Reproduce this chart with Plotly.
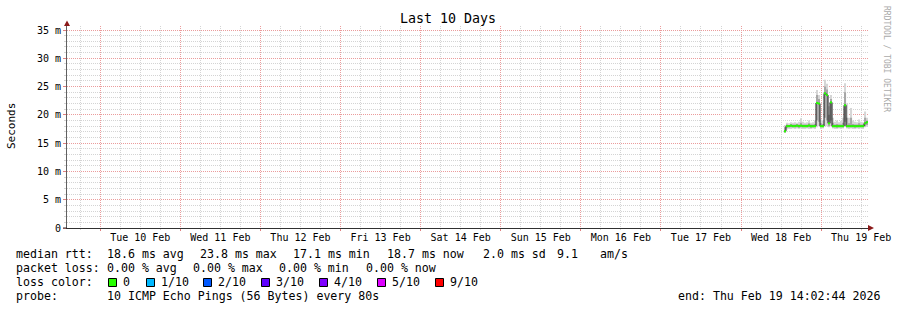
import plotly.graph_objects as go
import pandas as pd

# ---------------- data ----------------
range_start = "2026-02-09 14:02:44"
range_end = "2026-02-19 14:02:44"
data_start = "2026-02-18 12:52"
step = "36min"

median_ms = [17.1, 18.0, 18.0, 18.1, 18.0, 18.0, 18.1, 18.0, 18.1, 18.0,
             18.0, 18.0, 18.1, 18.0, 18.0, 18.0, 22.1, 22.0, 18.0, 18.0,
             23.8, 23.5, 18.5, 22.2, 18.0, 18.0, 18.0, 18.0, 18.0, 18.0,
             21.7, 18.0, 18.0, 18.0, 18.0, 18.0, 18.0, 18.0, 18.0, 18.0,
             18.5, 18.7]
min_ms = [16.8, 17.4, 17.5, 17.5, 17.6, 17.5, 17.6, 17.5, 17.6, 17.5,
          17.5, 17.6, 17.5, 17.5, 17.6, 17.5, 17.8, 18.0, 17.5, 17.6,
          18.0, 18.0, 17.8, 18.0, 17.6, 17.5, 17.5, 17.6, 17.5, 17.6,
          17.9, 17.6, 17.5, 17.6, 17.5, 17.5, 17.6, 17.5, 17.6, 17.5,
          17.8, 17.9]
max_ms = [18.2, 18.6, 18.5, 18.7, 18.6, 18.7, 18.6, 18.8, 19.4, 18.8,
          18.6, 18.7, 19.0, 18.6, 18.7, 19.0, 24.4, 23.5, 19.2, 19.0,
          26.2, 25.5, 21.5, 23.5, 19.5, 18.8, 19.0, 18.7, 18.9, 19.5,
          25.6, 22.0, 19.5, 21.2, 19.0, 18.8, 18.7, 19.2, 18.8, 18.7,
          20.6, 19.5]
inner_lo_ms = [16.9, 17.7, 17.8, 17.8, 17.8, 17.8, 17.8, 17.7, 17.8, 17.8,
               17.8, 17.8, 17.8, 17.7, 17.8, 17.8, 19.0, 18.8, 17.8, 17.8,
               19.5, 19.0, 18.0, 19.0, 17.8, 17.8, 17.7, 17.8, 17.8, 17.8,
               18.8, 17.8, 17.8, 17.8, 17.8, 17.7, 17.8, 17.8, 17.8, 17.8,
               18.0, 18.2]
inner_hi_ms = [17.8, 18.3, 18.2, 18.4, 18.3, 18.3, 18.4, 18.3, 18.6, 18.3,
               18.3, 18.3, 18.5, 18.3, 18.3, 18.4, 23.5, 22.8, 18.5, 18.4,
               25.0, 24.5, 20.0, 22.8, 18.6, 18.3, 18.4, 18.3, 18.3, 18.6,
               24.0, 19.5, 18.5, 19.5, 18.4, 18.3, 18.3, 18.5, 18.3, 18.3,
               19.5, 19.0]

y_tick_values = [0, 5, 10, 15, 20, 25, 30, 35]
y_tick_labels = ["0", "5 m", "10 m", "15 m", "20 m", "25 m", "30 m", "35 m"]

loss_labels = ["0", "1/10", "2/10", "3/10", "4/10", "5/10", "9/10"]
loss_colors = ["#26ff00", "#00b8ff", "#0059ff", "#5e00ff", "#7e00ff", "#dd00ff", "#ff0000"]

title_text = "Last 10 Days"
y_title = "Seconds"
rtt_items = ["median rtt:", "18.6 ms avg", "23.8 ms max", "17.1 ms min",
             "18.7 ms now", "2.0 ms sd", "9.1", "am/s"]
loss_items = ["packet loss:", "0.00 % avg", "0.00 % max", "0.00 % min", "0.00 % now"]
probe_items = ["probe:", "10 ICMP Echo Pings (56 Bytes) every 80s"]
end_text = "end: Thu Feb 19 14:02:44 2026"
watermark = "RRDTOOL / TOBI OETIKER"

# ---------------- geometry ----------------
W, H = 897, 310
L, R, T, B = 67, 868, 26, 228
Y_MAX = (B - T) / 5.657

def px(p):
    return (p - L) / (R - L)

def py(p):
    return (B - p) / (B - T)

MONO = "DejaVu Sans Mono"

times = pd.date_range(data_start, periods=len(median_ms) + 1, freq=step)

def ext(v):
    return list(v) + [v[-1]]

fig = go.Figure()

# smoke: outer band
fig.add_trace(go.Scatter(x=times, y=ext(min_ms), mode="lines", line=dict(width=0, shape="hv"),
                         hoverinfo="skip", showlegend=False))
fig.add_trace(go.Scatter(x=times, y=ext(max_ms), mode="lines", line=dict(width=0, shape="hv"),
                         fill="tonexty", fillcolor="#d6d6d6", hoverinfo="skip", showlegend=False))
# smoke: inner band
fig.add_trace(go.Scatter(x=times, y=ext(inner_lo_ms), mode="lines", line=dict(width=0, shape="hv"),
                         hoverinfo="skip", showlegend=False))
fig.add_trace(go.Scatter(x=times, y=ext(inner_hi_ms), mode="lines", line=dict(width=0, shape="hv"),
                         fill="tonexty", fillcolor="#a6a6a6", hoverinfo="skip", showlegend=False))
# median transitions (dark)
fig.add_trace(go.Scatter(x=times, y=ext(median_ms), mode="lines",
                         line=dict(width=1, shape="hv", color="#1a1a1a"),
                         hoverinfo="skip", showlegend=False))
# median coloured by loss (all 0 -> green)
gx, gy = [], []
for i, m in enumerate(median_ms):
    gx += [times[i], times[i + 1], None]
    gy += [m, m, None]
fig.add_trace(go.Scatter(x=gx, y=gy, mode="lines", line=dict(width=2, color=loss_colors[0]),
                         connectgaps=False, hoverinfo="skip", showlegend=False))

minor_grid = "#d4d4d4"
major_grid = "#eb9c9c"
dots = "1px,1px"

# minor y grid every 1 m, skipping the labelled (major) positions
y_minor_vals = [v for v in range(0, int(Y_MAX) + 1) if v not in y_tick_values]

fig.update_xaxes(
    type="date", range=[range_start, range_end],
    tick0="2026-02-10", dtick=86400000, tickformat="%a %d %b", ticklabelmode="period",
    showgrid=True, gridcolor=major_grid, griddash=dots, gridwidth=1,
    ticks="outside", ticklen=2, tickcolor="#e08080", ticklabelstandoff=-2,
    minor=dict(dtick=6 * 3600000, showgrid=True, gridcolor=minor_grid, griddash=dots,
               ticks="outside", ticklen=1, tickcolor=minor_grid),
    showline=True, linecolor="#303030", linewidth=1,
    tickfont=dict(family=MONO, size=10, color="#000000"),
    zeroline=False, automargin=False, fixedrange=True,
)
fig.update_yaxes(
    range=[0, Y_MAX], tickmode="array", tickvals=y_tick_values, ticktext=y_tick_labels,
    showgrid=True, gridcolor=major_grid, griddash=dots, gridwidth=1,
    ticks="outside", ticklen=3, tickcolor="#e08080",
    minor=dict(tickmode="array", tickvals=y_minor_vals, showgrid=True, gridcolor=minor_grid,
               griddash=dots, ticks="outside", ticklen=2, tickcolor=minor_grid),
    showline=True, linecolor="#606060", linewidth=1,
    tickfont=dict(family=MONO, size=10, color="#000000"),
    zeroline=False, automargin=False, fixedrange=True,
)

shapes = []
# x-axis extension to the left and arrows
shapes.append(dict(type="line", xref="paper", yref="paper", x0=px(63), x1=px(67), y0=0, y1=0,
                   line=dict(color="#303030", width=1)))
shapes.append(dict(type="path", xref="paper", yref="paper",
                   path=f"M {px(64)} {py(26)} L {px(70)} {py(26)} L {px(67)} {py(20.5)} Z",
                   fillcolor="#8b1a1a", line=dict(width=0)))
shapes.append(dict(type="path", xref="paper", yref="paper",
                   path=f"M {px(868)} {py(225)} L {px(868)} {py(231)} L {px(874)} {py(228)} Z",
                   fillcolor="#8b1a1a", line=dict(width=0)))

ann = []
def text(x, y, s, size=11.6, anchor="left", color="#000000", angle=0):
    ann.append(dict(x=px(x), y=py(y), xref="paper", yref="paper", text=s, showarrow=False,
                    xanchor=anchor, yanchor="middle", textangle=angle,
                    font=dict(family=MONO, size=size, color=color), borderpad=0, borderwidth=0))

text(448, 19, title_text, size=13.3, anchor="center")
text(11, 126, y_title, size=11, anchor="center", angle=-90)
text(887, 59, watermark, size=8, anchor="center", color="#aaaaaa", angle=90)

rtt_x = [15.5, 106.5, 199.5, 292.5, 386.5, 482.5, 556.5, 599.5]
for xx, s in zip(rtt_x, rtt_items):
    text(xx, 254, s)
loss_x = [15.5, 106.5, 192.5, 278.5, 365.5]
for xx, s in zip(loss_x, loss_items):
    text(xx, 268, s)
text(15.5, 282, "loss color:")
box_x = [108, 146, 203, 261, 319, 377, 435]
for bx, lab, col in zip(box_x, loss_labels, loss_colors):
    shapes.append(dict(type="rect", xref="paper", yref="paper",
                       x0=px(bx + 0.5), x1=px(bx + 8.5), y0=py(286.5), y1=py(278.5),
                       fillcolor=col, line=dict(color="#000000", width=1)))
    text(bx + 15, 282, lab)
text(15.5, 296, probe_items[0])
text(106.5, 296, probe_items[1])
text(880.5, 296, end_text, anchor="right")

fig.update_layout(
    width=W, height=H, autosize=False,
    margin=dict(l=L, r=W - R, t=T, b=H - B, pad=0),
    paper_bgcolor="#ffffff", plot_bgcolor="#ffffff",
    showlegend=False, shapes=shapes, annotations=ann,
)

fig.write_html("out.html", config={"displayModeBar": False})
